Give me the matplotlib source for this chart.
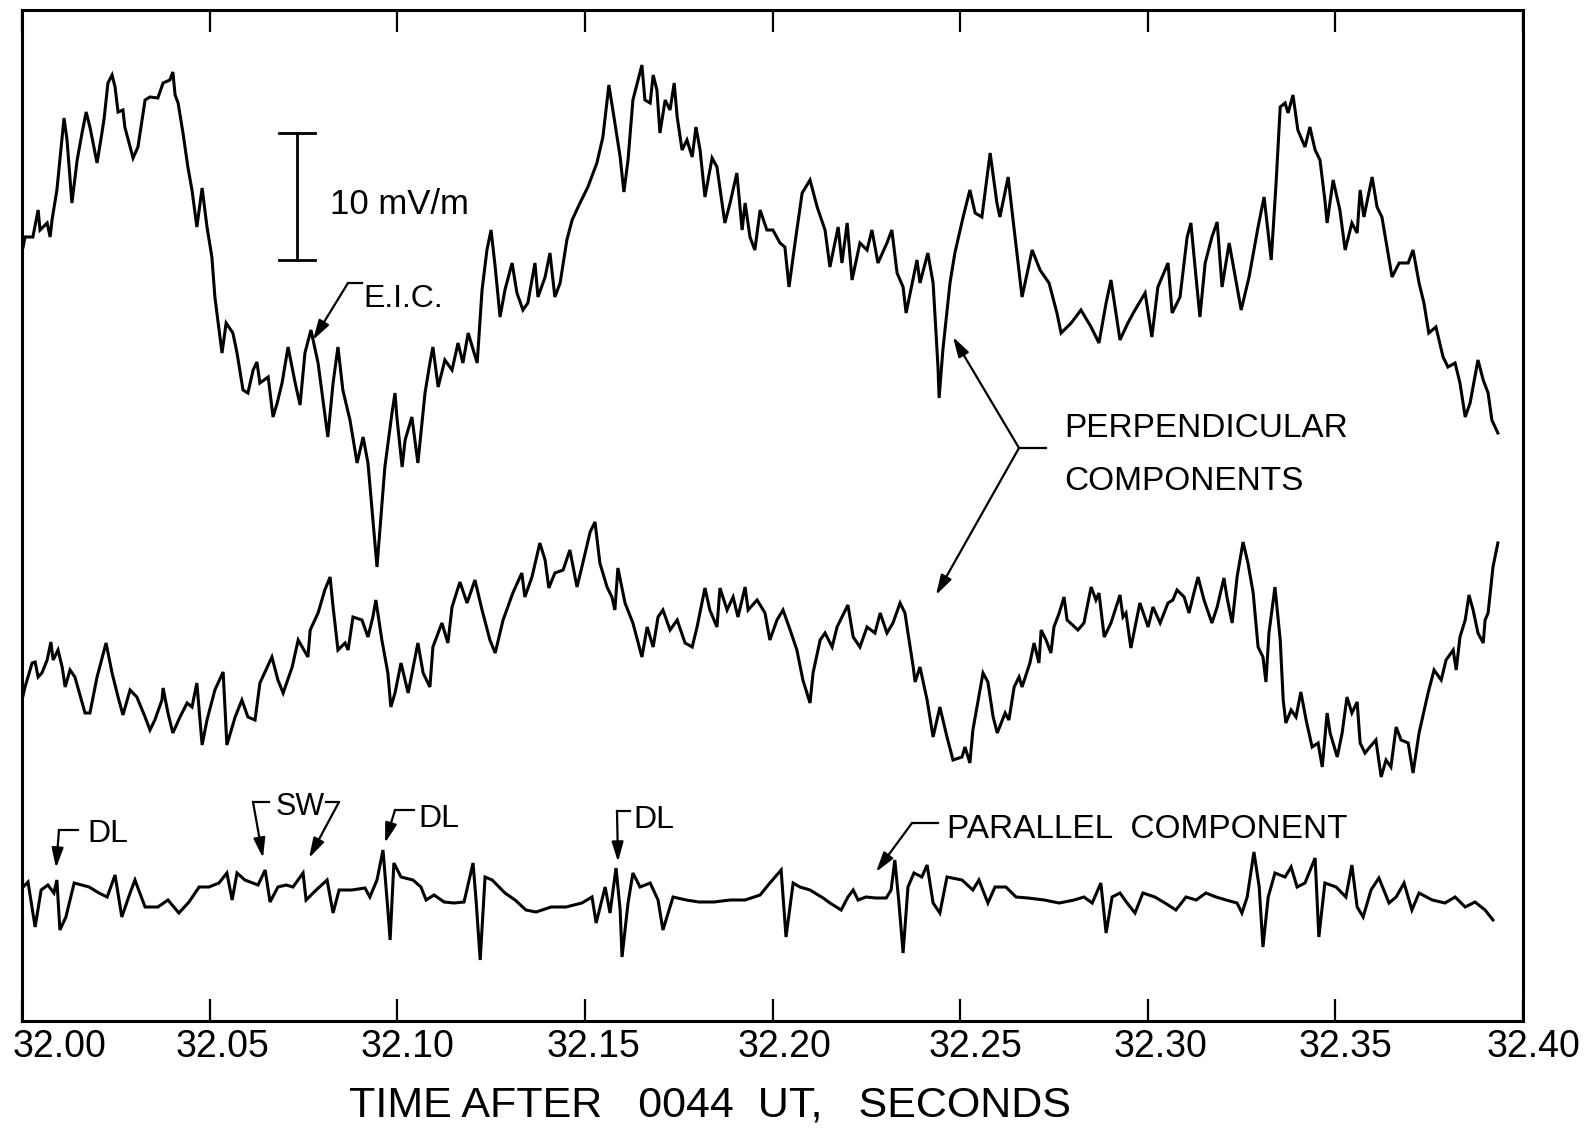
import numpy as np
import matplotlib
matplotlib.use("Agg")
import matplotlib.pyplot as plt
from matplotlib.transforms import ScaledTranslation

FONT = ["Liberation Sans", "DejaVu Sans"]
plt.rcParams["font.family"] = FONT

# ---------------- data ----------------
X_MIN, X_MAX = 32.00, 32.40
X_TICKS = [32.00, 32.05, 32.10, 32.15, 32.20, 32.25, 32.30, 32.35, 32.40]
X_TICK_LABELS = ["32.00", "32.05", "32.10", "32.15", "32.20", "32.25", "32.30", "32.35", "32.40"]
X_LABEL = "TIME AFTER   0044  UT,   SECONDS"
T_START = 32.0          # seconds; trace times are ms after this
COUNTS_PER_MVM = 12.7   # plotter counts per mV/m
SCALE_BAR_MVM = 10

# (ms after 32.00 s, field in plotter counts relative to trace baseline)
UPPER = [
    (0.3, 53), (0.8, 63), (2.9, 63), (4.3, 90), (4.8, 70), (6.7, 77), (7.5, 63), (8.0, 80), (9.3, 110),
    (11.2, 182), (12.0, 160), (13.3, 97), (14.7, 140), (16.0, 167), (17.1, 188), (18.1, 173), (20.0, 137),
    (21.3, 167), (21.9, 182), (22.9, 217), (24.0, 225), (24.8, 213), (25.6, 188), (26.9, 190), (27.4, 173),
    (29.6, 142), (30.9, 153), (32.8, 200), (34.1, 203), (36.2, 202), (37.6, 217), (39.4, 220), (40.2, 228),
    (40.8, 205), (41.6, 197), (42.9, 167), (44.2, 133), (45.3, 110), (46.6, 73), (48.0, 112), (49.3, 73),
    (50.6, 43), (51.4, 3), (53.3, -53), (54.4, -23), (56.2, -33), (57.3, -53), (58.9, -90), (60.2, -93),
    (61.6, -70), (62.6, -62), (63.4, -83), (65.6, -77), (66.9, -117), (68.0, -103), (69.3, -83), (70.9, -47),
    (72.8, -83), (74.1, -105), (75.4, -53), (77.0, -30), (78.9, -63), (81.5, -137), (82.9, -83), (84.2, -47),
    (85.5, -90), (87.4, -120), (89.3, -163), (90.9, -137), (92.2, -163), (94.6, -267), (96.7, -167),
    (98.6, -113), (99.4, -93), (99.9, -117), (101.3, -167), (102.1, -140), (103.9, -117), (105.5, -163),
    (107.4, -93), (108.7, -63), (109.5, -47), (110.9, -87), (112.7, -60), (114.6, -70), (116.2, -43),
    (117.5, -63), (118.9, -33), (121.3, -63), (122.6, 10), (123.9, 50), (125.0, 70), (126.1, 33),
    (127.4, -17), (128.7, 10), (130.6, 37), (131.9, 7), (133.5, -10), (134.8, -3), (136.7, 37), (137.5, 3),
    (139.4, 23), (140.7, 47), (142.0, 3), (143.4, 17), (145.2, 60), (146.6, 80), (148.7, 97), (150.8, 113),
    (153.2, 137), (154.8, 163), (156.4, 215), (158.0, 177), (159.4, 143), (160.4, 108), (161.5, 140),
    (162.8, 200), (165.2, 235), (166.0, 200), (167.4, 197), (168.2, 225), (169.2, 210), (170.0, 167),
    (171.4, 200), (172.7, 190), (173.8, 217), (174.6, 183), (175.9, 150), (177.2, 160), (178.6, 143),
    (179.6, 173), (180.7, 150), (182.0, 103), (183.9, 142), (185.2, 133), (187.3, 77), (188.7, 97),
    (190.5, 127), (191.9, 70), (192.7, 97), (194.0, 63), (195.3, 50), (196.7, 90), (198.5, 70), (200.1, 70),
    (202.0, 57), (203.3, 53), (204.4, 13), (206.0, 57), (207.9, 107), (210.0, 120), (211.9, 93), (214.0, 70),
    (215.3, 33), (217.5, 73), (218.5, 37), (219.9, 77), (221.2, 20), (223.3, 57), (225.2, 50), (226.5, 70),
    (228.1, 37), (230.5, 57), (231.8, 70), (233.2, 27), (234.8, 13), (235.6, -13), (238.5, 40), (239.3, 17),
    (241.4, 47), (242.8, 17), (244.1, -67), (244.4, -98), (245.4, -50), (247.3, 17), (248.6, 47), (250.8, 83),
    (252.6, 110), (254.0, 87), (255.8, 83), (258.0, 147), (259.8, 97), (260.6, 83), (262.8, 123), (263.8, 90),
    (266.5, 3), (269.2, 50), (271.3, 30), (273.7, 17), (275.8, -13), (276.9, -33), (279.6, -23), (282.2, -10),
    (284.9, -27), (287.0, -43), (288.9, -3), (290.2, 20), (292.6, -40), (294.7, -23), (296.6, -10), (299.3, 7),
    (301.1, -37), (302.7, 13), (305.4, 37), (306.5, -13), (308.6, 3), (310.5, 63), (311.5, 77), (312.6, 33),
    (313.9, -17), (315.3, 37), (317.1, 63), (318.5, 78), (319.8, 13), (321.7, 57), (323.0, 30), (324.9, -10),
    (327.0, 23), (329.4, 73), (331.0, 103), (332.9, 40), (334.2, 117), (335.3, 193), (336.6, 197), (337.4, 187),
    (338.7, 205), (340.0, 170), (341.9, 153), (343.2, 173), (344.6, 150), (345.9, 140), (347.2, 100),
    (347.8, 77), (349.4, 120), (351.2, 90), (352.6, 50), (354.4, 77), (355.8, 67), (356.6, 110), (357.6, 83),
    (359.8, 123), (361.1, 93), (362.4, 83), (365.1, 23), (367.0, 37), (369.4, 37), (370.7, 50), (372.3, 17),
    (373.6, -3), (374.9, -33), (376.8, -27), (378.7, -57), (380.0, -67), (381.9, -63), (383.2, -83),
    (384.6, -117), (385.9, -103), (388.0, -60), (389.4, -80), (390.7, -93), (391.7, -120), (393.3, -133),
]

MIDDLE = [
    (0.0, -50), (0.8, -37), (2.7, -13), (3.5, -12), (4.3, -27), (5.3, -23), (6.7, -10), (7.7, 8), (8.3, -10),
    (9.6, 0), (10.7, -17), (11.5, -37), (12.8, -20), (14.1, -27), (16.8, -63), (18.1, -63), (20.0, -27),
    (22.4, 7), (24.0, -23), (25.6, -47), (26.9, -65), (28.8, -40), (30.6, -47), (32.8, -67), (34.1, -80),
    (35.4, -70), (37.3, -50), (37.6, -38), (38.9, -63), (40.2, -83), (42.1, -67), (44.0, -53), (45.3, -57),
    (46.6, -33), (48.0, -95), (49.3, -70), (51.4, -40), (53.6, -22), (54.6, -95), (56.8, -67), (58.6, -50),
    (60.2, -67), (62.1, -70), (63.4, -33), (66.6, -7), (68.2, -30), (69.6, -43), (72.0, -17), (73.6, 10),
    (76.2, -7), (76.8, 20), (78.9, 37), (80.7, 60), (82.1, 73), (82.9, 43), (84.2, 0), (86.1, 7), (86.9, 0),
    (88.2, 33), (90.6, 30), (92.2, 13), (93.5, 33), (94.3, 50), (95.9, 10), (97.5, -23), (98.3, -57),
    (99.4, -43), (101.0, -13), (102.9, -43), (105.5, 7), (106.9, -23), (108.7, -37), (109.5, 3), (111.9, 27),
    (113.5, 7), (114.6, 43), (116.7, 68), (118.6, 47), (120.7, 70), (122.6, 40), (124.7, 10), (126.1, -3),
    (128.2, 30), (130.8, 57), (133.2, 77), (134.0, 53), (135.9, 73), (138.0, 107), (139.4, 90), (140.4, 62),
    (142.0, 77), (144.2, 80), (146.0, 100), (147.9, 63), (149.2, 83), (151.4, 118), (152.7, 128), (154.0, 87),
    (155.9, 63), (157.2, 53), (158.0, 40), (158.8, 82), (160.7, 47), (162.8, 27), (165.2, -7), (166.6, 23),
    (168.2, 3), (169.5, 33), (170.8, 40), (172.7, 20), (174.6, 30), (176.7, 7), (178.6, 3), (179.9, 23),
    (182.0, 62), (183.3, 40), (185.2, 23), (186.0, 62), (187.9, 40), (189.5, 53), (190.8, 33), (192.7, 63),
    (193.5, 40), (195.9, 50), (198.0, 37), (199.3, 10), (201.2, 30), (202.8, 40), (204.7, 20), (206.5, 0),
    (208.1, -30), (210.0, -53), (210.8, -23), (212.7, 10), (214.0, 17), (215.9, 3), (217.2, 23), (220.1, 45),
    (221.5, 13), (223.3, 3), (225.2, 23), (227.3, 17), (228.7, 37), (230.5, 17), (232.1, 27), (234.0, 47),
    (235.3, 37), (236.1, 17), (237.5, -17), (238.0, -32), (239.3, -17), (241.2, -50), (242.8, -87),
    (244.6, -57), (246.5, -87), (248.1, -110), (250.5, -107), (251.3, -97), (252.6, -113), (253.4, -80),
    (256.1, -23), (257.4, -32), (258.8, -67), (259.9, -83), (262.0, -63), (263.0, -70), (264.4, -37),
    (265.7, -27), (266.5, -37), (268.6, -13), (269.7, 7), (271.0, -13), (271.6, 20), (272.9, 10), (274.2, -3),
    (275.0, 23), (276.4, 37), (277.7, 53), (278.5, 30), (281.4, 20), (283.0, 27), (284.9, 63), (286.2, 50),
    (287.0, 57), (288.4, 13), (290.2, 27), (292.6, 55), (293.4, 33), (294.2, 37), (295.5, 2), (297.9, 47),
    (300.1, 23), (301.4, 43), (303.3, 27), (305.4, 47), (306.7, 50), (307.8, 60), (309.7, 53), (311.0, 37),
    (312.3, 57), (313.4, 73), (315.0, 50), (317.1, 27), (318.5, 43), (320.3, 72), (321.1, 53), (322.5, 27),
    (323.8, 73), (325.4, 108), (326.7, 87), (328.1, 57), (329.4, 3), (330.7, -7), (331.5, -32), (332.3, 17),
    (333.9, 63), (335.3, 10), (336.1, -50), (336.8, -73), (338.2, -60), (339.5, -67), (340.8, -42),
    (342.2, -70), (343.8, -97), (345.4, -93), (346.5, -117), (347.8, -63), (348.6, -83), (350.5, -107),
    (351.8, -83), (353.1, -47), (354.4, -63), (355.8, -52), (356.6, -93), (357.9, -103), (359.2, -97),
    (360.8, -90), (362.2, -127), (363.5, -110), (364.8, -117), (366.2, -77), (367.5, -90), (369.4, -93),
    (370.7, -123), (372.3, -83), (374.7, -43), (376.3, -20), (378.2, -30), (379.5, -10), (381.4, 0),
    (382.2, -20), (383.2, 13), (384.6, 30), (385.6, 55), (386.7, 40), (388.0, 17), (389.4, 7), (389.9, 30),
    (390.7, 37), (392.0, 83), (393.3, 107),
]

PARALLEL = [
    (0.3, -7), (1.6, -2), (3.5, -47), (5.1, -10), (6.9, -5), (8.5, -13), (9.3, 0), (10.1, -50), (11.7, -37),
    (13.9, -3), (17.9, -7), (20.5, -13), (22.7, -17), (24.8, 5), (26.6, -37), (28.8, -13), (30.1, 0),
    (32.8, -27), (36.2, -27), (38.9, -20), (41.8, -33), (44.5, -22), (47.2, -7), (49.8, -7), (52.5, -3),
    (54.6, 7), (56.0, -20), (57.3, 7), (59.4, 0), (62.9, -5), (64.8, 10), (66.1, -22), (68.2, -7), (70.4, -5),
    (72.2, -7), (74.9, 7), (75.7, -20), (78.4, -10), (81.3, 0), (82.9, -33), (84.5, -10), (87.9, -10),
    (91.4, -8), (92.7, -17), (94.6, 0), (96.2, 30), (97.5, -30), (98.1, -60), (99.1, 17), (101.0, 3),
    (104.2, 0), (106.3, -7), (107.7, -20), (109.8, -15), (112.5, -22), (115.1, -23), (117.8, -22),
    (120.2, 17), (121.0, -20), (122.1, -80), (123.4, 3), (125.3, 0), (128.7, -13), (131.4, -20), (134.3, -30),
    (137.0, -32), (141.0, -27), (145.0, -27), (149.2, -23), (151.9, -17), (153.0, -43), (155.4, -7),
    (156.7, -33), (158.3, 12), (159.4, -30), (159.9, -77), (161.5, -23), (162.8, 7), (164.7, -7), (167.4, -3),
    (169.5, -20), (170.8, -50), (173.5, -17), (177.0, -20), (180.4, -22), (184.4, -22), (188.7, -20),
    (192.7, -20), (196.7, -15), (199.3, -3), (202.3, 10), (203.6, -57), (205.5, -3), (207.3, -7), (210.0, -10),
    (213.5, -18), (215.3, -23), (218.3, -30), (220.1, -17), (221.5, -10), (222.8, -20), (224.9, -17),
    (227.6, -18), (230.3, -18), (231.6, -10), (232.6, 20), (233.7, -23), (234.8, -73), (236.1, -7), (237.7, 7),
    (239.8, 3), (241.2, 15), (242.8, -23), (244.6, -33), (246.5, 3), (250.5, 0), (253.4, -10), (255.0, 0),
    (257.4, -23), (259.3, -7), (262.2, -7), (264.9, -17), (268.1, -18), (272.4, -20), (276.4, -23),
    (280.4, -20), (283.0, -17), (285.2, -23), (287.5, -3), (288.9, -53), (290.5, -17), (292.6, -13),
    (294.5, -23), (296.6, -33), (298.7, -13), (301.9, -17), (304.6, -23), (307.5, -30), (310.2, -17),
    (312.9, -20), (315.5, -13), (318.2, -17), (320.9, -20), (323.8, -23), (325.1, -33), (326.5, -17),
    (328.3, 28), (329.7, -7), (330.7, -67), (332.1, -17), (333.9, 7), (336.6, 3), (338.2, 13), (339.8, -7),
    (341.9, -3), (344.6, 22), (345.6, -57), (347.2, -3), (350.2, -7), (352.8, -17), (354.4, 15), (355.8, -27),
    (357.4, -37), (359.5, -10), (361.6, 2), (364.3, -23), (366.2, -17), (368.3, -3), (370.4, -30),
    (372.3, -13), (375.8, -20), (379.2, -23), (381.9, -17), (384.6, -27), (387.2, -22), (389.9, -30),
    (392.0, -40),
]

# ---------------- layout ----------------
W, H = 1595, 1130
fig = plt.figure(figsize=(W / 100, H / 100), dpi=100)
ax = fig.add_axes([22 / W, 1 - 1021 / H, 1501 / W, 1011 / H])
ax.set_xlim(X_MIN, X_MAX)
ax.set_ylim(0, 1011)

OFFSETS = {"upper": 721, "middle": 371, "parallel": 141}
LW = 2.2
for name, trace in (("upper", UPPER), ("middle", MIDDLE), ("parallel", PARALLEL)):
    arr = np.array(trace, dtype=float)
    t = T_START + arr[:, 0] / 1000.0
    ax.plot(t, arr[:, 1] + OFFSETS[name], color="black", lw=LW, solid_joinstyle="miter")

# axes styling
for sp in ax.spines.values():
    sp.set_linewidth(2.2)
ax.set_xticks(X_TICKS)
ax.set_xticklabels([])
ax.set_yticks([])
ax.tick_params(axis="x", direction="in", length=16, width=1.6, top=True, bottom=True)

# tick labels, drawn slightly right of their ticks as in the original plotter output
LABEL_DX_PX = [38, 13, 10, 9, 12, 15, 13, 10, 10]
for tk, lab, dx in zip(X_TICKS, X_TICK_LABELS, LABEL_DX_PX):
    tr = ax.get_xaxis_transform() + ScaledTranslation(dx / 100, -36 / 100, fig.dpi_scale_trans)
    ax.text(tk, 0, lab, transform=tr, ha="center", va="baseline", fontsize=27, clip_on=False)

fig.text(710 / W, 1 - 1117 / H, X_LABEL, ha="center", va="baseline", fontsize=31)

# scale bar (10 mV/m)
bar_t = 32.0733
bar_bottom = 761
bar_top = bar_bottom + SCALE_BAR_MVM * COUNTS_PER_MVM
cap = 0.0049
ax.plot([bar_t, bar_t], [bar_bottom, bar_top], color="black", lw=2.0)
ax.plot([bar_t - cap, bar_t + cap], [bar_bottom, bar_bottom], color="black", lw=2.0)
ax.plot([bar_t - cap, bar_t + cap], [bar_top, bar_top], color="black", lw=2.0)


def fp(px, py):
    return (px / W, 1 - py / H)


def label(px, py_base, s, size):
    fig.text(px / W, 1 - py_base / H, s, ha="left", va="baseline", fontsize=size)


def leader(points, tip):
    xs = [fp(*p)[0] for p in points]
    ys = [fp(*p)[1] for p in points]
    fig.add_artist(plt.Line2D(xs, ys, transform=fig.transFigure, color="black", lw=1.6))
    ax.annotate("", xy=fp(*tip), xycoords="figure fraction",
                xytext=fp(*points[-1]), textcoords="figure fraction",
                arrowprops=dict(arrowstyle="-|>,head_length=0.75,head_width=0.22",
                                color="black", lw=1.6, shrinkA=0, shrinkB=0,
                                mutation_scale=16))


label(330, 214, "10 mV/m", 25)
label(363, 307, "E.I.C.", 23)
leader([(362, 283), (348, 283)], (313, 340))

label(1064, 437, "PERPENDICULAR", 24)
label(1064, 490, "COMPONENTS", 24)
leader([(1046, 448), (1019, 448)], (953, 337))
leader([(1019, 448)], (936, 595))

label(87, 842, "DL", 23)
leader([(78, 830), (59, 830)], (56, 868))
label(276, 815, "SW", 22)
leader([(269, 802), (253, 802)], (263, 858))
leader([(326, 802), (339, 802)], (309, 858))
label(418, 827, "DL", 23)
leader([(414, 810), (395, 810)], (385, 843))
label(633, 828, "DL", 23)
leader([(630, 811), (617, 811)], (618, 862))
label(947, 838, "PARALLEL  COMPONENT", 24)
leader([(938, 823), (912, 823)], (876, 872))

fig.savefig("out.png", dpi=100)
